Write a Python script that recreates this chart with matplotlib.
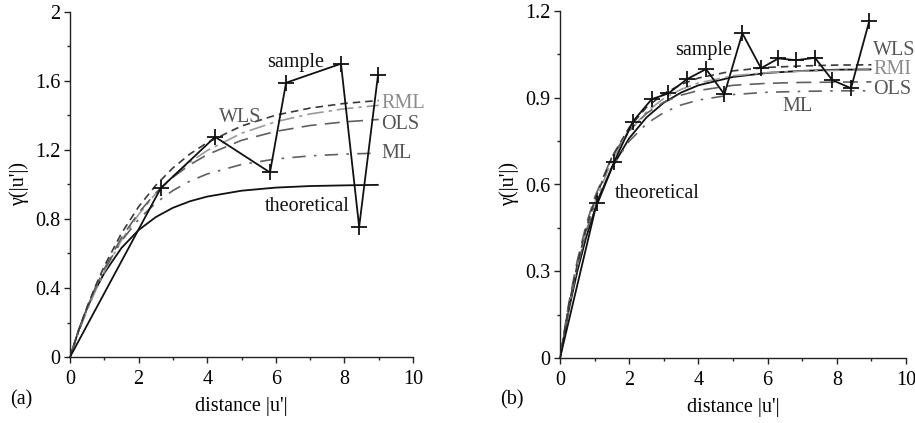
import matplotlib
matplotlib.use("Agg")
import matplotlib.pyplot as plt
from matplotlib.ticker import MultipleLocator

plt.rcParams['font.family'] = ['Liberation Serif', 'DejaVu Serif']

# ---------------- data ----------------
grid_x = [0, 0.25, 0.5, 0.75, 1, 1.5, 2, 2.5, 3, 3.5, 4, 5, 6, 7, 8, 9]

# panel (a)
a_sample_x = [0, 2.65, 4.23, 5.83, 6.30, 7.90, 8.43, 8.98]
a_sample_y = [0, 0.98, 1.276, 1.07, 1.59, 1.70, 0.755, 1.635]
a_theoretical = [0, 0.154, 0.283, 0.393, 0.487, 0.632, 0.736, 0.811, 0.865, 0.903, 0.930, 0.964, 0.982, 0.991, 0.995, 0.998]
a_wls = [0, 0.153, 0.291, 0.415, 0.527, 0.717, 0.871, 0.995, 1.096, 1.177, 1.243, 1.339, 1.402, 1.443, 1.470, 1.487]
a_rml = [0, 0.143, 0.272, 0.389, 0.495, 0.677, 0.826, 0.948, 1.048, 1.130, 1.197, 1.297, 1.364, 1.409, 1.439, 1.459]
a_ols = [0, 0.150, 0.285, 0.404, 0.511, 0.692, 0.836, 0.951, 1.042, 1.115, 1.173, 1.256, 1.308, 1.342, 1.363, 1.377]
a_ml = [0, 0.154, 0.289, 0.406, 0.507, 0.673, 0.798, 0.893, 0.965, 1.020, 1.061, 1.116, 1.148, 1.166, 1.176, 1.182]

# panel (b)
b_sample_x = [0, 1.06, 1.57, 2.10, 2.65, 3.13, 3.68, 4.22, 4.75, 5.27, 5.81, 6.31, 6.82, 7.37, 7.87, 8.41, 8.94]
b_sample_y = [0, 0.535, 0.679, 0.817, 0.895, 0.915, 0.965, 0.999, 0.912, 1.123, 1.002, 1.036, 1.030, 1.038, 0.961, 0.933, 1.166]
b_theoretical = [0, 0.164, 0.300, 0.415, 0.510, 0.658, 0.760, 0.832, 0.883, 0.918, 0.943, 0.972, 0.986, 0.993, 0.997, 0.998]
b_wls = [0, 0.178, 0.324, 0.445, 0.545, 0.695, 0.797, 0.867, 0.914, 0.946, 0.968, 0.993, 1.005, 1.010, 1.013, 1.014]
b_rml = [0, 0.174, 0.318, 0.437, 0.535, 0.683, 0.783, 0.851, 0.898, 0.929, 0.951, 0.976, 0.987, 0.992, 0.995, 0.996]
b_ols = [0, 0.187, 0.337, 0.458, 0.555, 0.696, 0.787, 0.846, 0.885, 0.909, 0.925, 0.943, 0.950, 0.953, 0.954, 0.955]
b_ml = [0, 0.174, 0.315, 0.430, 0.523, 0.660, 0.750, 0.810, 0.849, 0.875, 0.892, 0.911, 0.919, 0.922, 0.924, 0.924]

a_yticks = [0, 0.4, 0.8, 1.2, 1.6, 2]
a_yticklabels = ["0", "0.4", "0.8", "1.2", "1.6", "2"]
b_yticks = [0, 0.3, 0.6, 0.9, 1.2]
b_yticklabels = ["0", "0.3", "0.6", "0.9", "1.2"]
xticks = [0, 2, 4, 6, 8, 10]
xticklabels = ["0", "2", "4", "6", "8", "10"]

# ---------------- figure ----------------
fig = plt.figure(figsize=(9.15, 4.23), dpi=100)
axa = fig.add_axes([70/915, 66/423, 343/915, 345/423])
axb = fig.add_axes([560/915, 65/423, 346/915, 347/423])

FS = 14.5
C_WLS = '#3a3a3a'
C_RML = '#9a9a9a'
C_OLS = '#606060'
C_ML = '#606060'


def style_axes(ax, ymax, yticks, yticklabels, yminor):
    ax.set_xlim(0, 10)
    ax.set_ylim(0, ymax)
    for s in ['top', 'right']:
        ax.spines[s].set_visible(False)
    for s in ['left', 'bottom']:
        ax.spines[s].set_linewidth(1.0)
        ax.spines[s].set_color('#222222')
    ax.set_xticks(xticks)
    ax.set_xticklabels(xticklabels)
    ax.set_yticks(yticks)
    ax.set_yticklabels(yticklabels)
    ax.xaxis.set_minor_locator(MultipleLocator(1))
    ax.yaxis.set_minor_locator(MultipleLocator(yminor))
    ax.tick_params(which='major', direction='out', length=4, width=1, labelsize=FS, pad=3, color='#222222')
    ax.tick_params(axis='x', which='major', pad=5)
    ax.tick_params(which='minor', direction='out', length=2.5, width=1, color='#222222')
    ax.set_xlabel("distance |u'|", fontsize=FS, labelpad=6)
    ax.set_ylabel("γ(|u'|)", fontsize=FS, labelpad=4)


def draw_fits(ax, theo, wls, rml, ols, ml, sx, sy):
    ax.plot(grid_x, theo, color='#111111', lw=1.3, solid_capstyle='butt')
    l, = ax.plot(grid_x, rml, color=C_RML, lw=1.2)
    l.set_dashes((10, 3, 2, 3))
    l, = ax.plot(grid_x, ols, color=C_OLS, lw=1.2)
    l.set_dashes((9, 5))
    l, = ax.plot(grid_x, ml, color=C_ML, lw=1.2)
    l.set_dashes((8, 5, 1.5, 5))
    l, = ax.plot(grid_x, wls, color=C_WLS, lw=1.2)
    l.set_dashes((4.5, 3))
    ax.plot(sx, sy, color='#111111', lw=1.3, marker='+', markersize=11,
            markeredgewidth=1.3, markevery=list(range(1, len(sx))), clip_on=False)


draw_fits(axa, a_theoretical, a_wls, a_rml, a_ols, a_ml, a_sample_x, a_sample_y)
draw_fits(axb, b_theoretical, b_wls, b_rml, b_ols, b_ml, b_sample_x, b_sample_y)

style_axes(axa, 2, a_yticks, a_yticklabels, 0.2)
style_axes(axb, 1.2, b_yticks, b_yticklabels, 0.15)

# labels panel (a)
axa.text(7.4, 1.71, "sample", fontsize=FS, ha='right', va='center', color='#111111')
axa.text(4.35, 1.39, "WLS", fontsize=FS, ha='left', va='center', color='#555555')
axa.text(9.07, 1.47, "RML", fontsize=FS, ha='left', va='center', color='#8c8c8c', clip_on=False)
axa.text(9.07, 1.35, "OLS", fontsize=FS, ha='left', va='center', color='#555555', clip_on=False)
axa.text(9.07, 1.18, "ML", fontsize=FS, ha='left', va='center', color='#555555', clip_on=False)
axa.text(5.69, 0.87, "theoretical", fontsize=FS, ha='left', va='center', color='#111111')

# labels panel (b)
axb.text(3.32, 1.065, "sample", fontsize=FS, ha='left', va='center', color='#111111')
axb.text(9.05, 1.062, "WLS", fontsize=FS, ha='left', va='center', color='#555555', clip_on=False)
axb.text(9.05, 0.997, "RMI", fontsize=FS, ha='left', va='center', color='#8c8c8c', clip_on=False)
axb.text(9.05, 0.928, "OLS", fontsize=FS, ha='left', va='center', color='#555555', clip_on=False)
axb.text(6.42, 0.869, "ML", fontsize=FS, ha='left', va='center', color='#555555')
axb.text(1.59, 0.57, "theoretical", fontsize=FS, ha='left', va='center', color='#111111')

fig.text(10/915, 1 - 400/423, "(a)", fontsize=FS, ha='left', va='center')
fig.text(500/915, 1 - 400/423, "(b)", fontsize=FS, ha='left', va='center')

fig.savefig("out.png", dpi=100)
